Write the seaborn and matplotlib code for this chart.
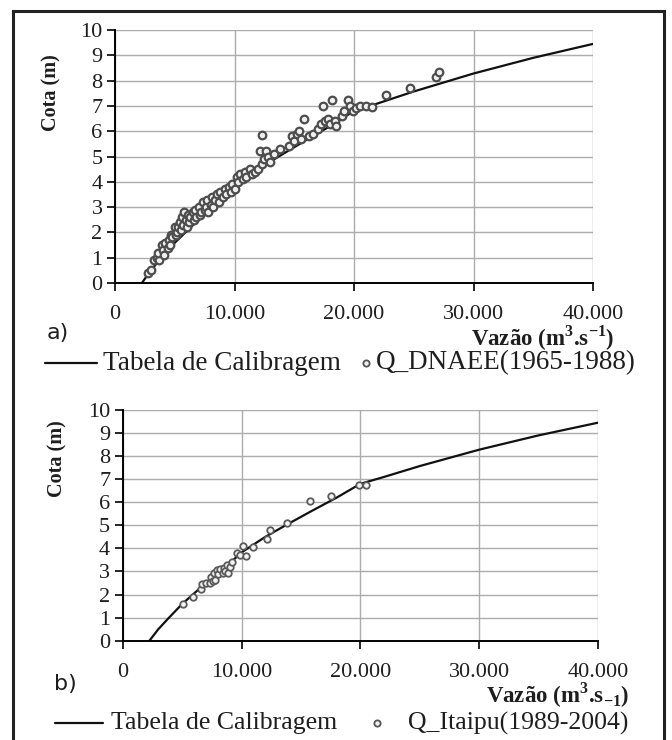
import matplotlib
matplotlib.use("Agg")
import matplotlib.pyplot as plt
import matplotlib.patches as mpatches
from matplotlib.lines import Line2D
from matplotlib.ticker import FuncFormatter
import seaborn as sns
import pandas as pd

# Rating curve (Tabela de Calibragem)
curve_q = [2250, 3000, 3900, 5000, 5900, 7000, 8150, 9300, 10100, 12000, 13700,
           16000, 18000, 20000, 22000, 25000, 30000, 35000, 40000]
curve_h = [0.0, 0.5, 1.0, 1.59, 2.0, 2.5, 3.0, 3.5, 3.86, 4.5, 5.0,
           5.65, 6.2, 6.8, 7.1, 7.57, 8.28, 8.9, 9.45]

# Q_DNAEE (1965-1988)
dnaee_q = [2800, 3000, 3300, 3500, 3700, 3600, 3900, 4000, 4100, 4200, 4400, 4500,
           4600, 4700, 4800, 5000, 5100, 5200, 5300, 5400, 5500, 5600, 5700, 5800,
           5900, 6000, 6100, 6200, 6300, 6500, 6600, 6700, 6800, 7000, 7100, 7200,
           7400, 7500, 7600, 7700, 7800, 8000, 8100, 8200, 8400, 8500, 8700, 8800,
           9000, 9200, 9300, 9500, 9700, 9800, 10000, 10200, 10300, 10500, 10700,
           10900, 11000, 11300, 11500, 11700, 12000, 12100, 12300, 12300, 12500,
           12600, 12800, 13000, 13300, 13800, 14600, 14800, 15000, 15200, 15400,
           15600, 15800, 16200, 16600, 17000, 17200, 17400, 17600, 17800, 18000,
           18200, 18400, 18500, 19000, 19200, 19500, 19700, 19900, 20200, 20500,
           21000, 21500, 22700, 24700, 26900, 27100]
dnaee_h = [0.4, 0.5, 0.9, 1.0, 0.9, 1.2, 1.5, 1.3, 1.1, 1.6, 1.4, 1.7,
           1.5, 1.9, 1.8, 2.2, 1.9, 2.0, 2.2, 2.4, 2.1, 2.6, 2.3, 2.8,
           2.5, 2.2, 2.7, 2.4, 2.6, 2.8, 2.5, 2.9, 2.6, 3.0, 2.7, 2.8,
           3.2, 2.9, 3.0, 3.3, 2.8, 3.1, 3.4, 3.0, 3.3, 3.5, 3.2, 3.6,
           3.4, 3.7, 3.5, 3.8, 3.6, 3.9, 3.7, 4.2, 4.0, 4.3, 4.1,
           4.4, 4.2, 4.5, 4.3, 4.4, 4.5, 5.2, 5.85, 4.7, 4.9,
           5.2, 5.0, 4.8, 5.1, 5.3, 5.4, 5.8, 5.6, 5.9, 6.0,
           5.7, 6.5, 5.8, 5.9, 6.1, 6.3, 7.0, 6.4, 6.5, 6.3,
           7.25, 6.4, 6.2, 6.6, 6.8, 7.25, 7.0, 6.8, 6.9, 7.0,
           7.0, 6.95, 7.43, 7.7, 8.15, 8.35]

# Q_Itaipu (1989-2004)
itaipu_q = [5050, 5940, 6560, 6650, 7010, 7350, 7400, 7600, 7700, 7800, 7910,
            8000, 8200, 8400, 8500, 8600, 8800, 8900, 9000, 9200, 9600, 9880,
            10100, 10380, 11000, 12120, 12400, 13860, 15770, 17510, 19920, 20480]
itaipu_h = [1.59, 1.91, 2.23, 2.46, 2.5, 2.5, 2.75, 2.6, 2.95, 2.65, 3.06,
            2.9, 3.1, 2.95, 3.15, 3.0, 3.3, 2.95, 3.2, 3.4, 3.8, 3.7,
            4.1, 3.67, 4.07, 4.4, 4.8, 5.11, 6.07, 6.27, 6.75, 6.75]

x_ticks = [0, 10000, 20000, 30000, 40000]
y_ticks = list(range(0, 11))

sns.set_theme(style="white")
plt.rcParams['font.family'] = ['Liberation Serif', 'DejaVu Serif']
plt.rcParams['mathtext.fontset'] = 'custom'
plt.rcParams['mathtext.rm'] = 'Liberation Serif'
plt.rcParams['mathtext.bf'] = 'Liberation Serif:bold'

W, H = 672, 740
fig = plt.figure(figsize=(W / 100, H / 100), dpi=100)
fig.patch.set_facecolor('white')

TXT = '#1e1e1e'

# outer frame
fig.add_artist(mpatches.Rectangle((13 / W, -0.01), (664 - 13) / W, 1 - 11 / H + 0.01,
                                  transform=fig.transFigure, fill=False,
                                  edgecolor='#222222', linewidth=2.2))

curve_df = pd.DataFrame({'Q': curve_q, 'h': curve_h})
dnaee_df = pd.DataFrame({'Q': dnaee_q, 'h': dnaee_h})
itaipu_df = pd.DataFrame({'Q': itaipu_q, 'h': itaipu_h})

fmt = FuncFormatter(lambda v, p: "0" if v == 0 else f"{int(v):,}".replace(",", "."))


def style_ax(ax):
    ax.set_xlim(0, 40000)
    ax.set_ylim(0, 10)
    ax.set_xticks(x_ticks)
    ax.set_yticks(y_ticks)
    ax.xaxis.set_major_formatter(fmt)
    ax.grid(True, color='#acacac', linewidth=1.0)
    ax.set_axisbelow(True)
    for s in ['top', 'right']:
        ax.spines[s].set_visible(False)
    for s in ['left', 'bottom']:
        ax.spines[s].set_color('black')
        ax.spines[s].set_linewidth(1.4)
        ax.spines[s].set_zorder(5)
    ax.tick_params(axis='y', which='both', left=True, direction='out', length=6,
                   width=1.2, color='black', labelsize=16, pad=3, labelcolor=TXT)
    ax.tick_params(axis='x', which='both', bottom=True, direction='out', length=6,
                   width=1.2, color='black', labelsize=16, pad=10, labelcolor=TXT)
    ax.set_xlabel('')
    ax.set_ylabel('')
    leg = ax.get_legend()
    if leg is not None:
        leg.remove()


# Panel a)
ax1 = fig.add_axes([115 / W, 1 - 283 / H, (593 - 115) / W, (283 - 30) / H])
sns.lineplot(data=curve_df, x='Q', y='h', ax=ax1, color='#111111', linewidth=1.6, zorder=3)
sns.scatterplot(data=dnaee_df, x='Q', y='h', ax=ax1, marker='o', s=30,
                facecolor='#f0f0f0', edgecolor='#4d4d4d', linewidth=1.6, zorder=4)
style_ax(ax1)

# Panel b)
ax2 = fig.add_axes([122.7 / W, 1 - 640.7 / H, (598 - 122.7) / W, (640.7 - 410) / H])
sns.lineplot(data=curve_df, x='Q', y='h', ax=ax2, color='#111111', linewidth=1.6, zorder=3)
sns.scatterplot(data=itaipu_df, x='Q', y='h', ax=ax2, marker='o', s=22,
                facecolor='#f4f4f4', edgecolor='#5a5a5a', linewidth=1.3, zorder=4)
style_ax(ax2)

# y labels
fig.text(51 / W, 1 - 93 / H, 'Cota (m)', rotation=90, ha='center', va='center',
         fontsize=14.5, fontweight='bold', color=TXT)
fig.text(57 / W, 1 - 459 / H, 'Cota (m)', rotation=90, ha='center', va='center',
         fontsize=14.5, fontweight='bold', color=TXT)

# labels a) / b)
fig.text(47 / W, 1 - 333 / H, 'a)', fontsize=16, family='DejaVu Sans',
         ha='left', va='center', color=TXT)
fig.text(54 / W, 1 - 684 / H, 'b)', fontsize=16, family='DejaVu Sans',
         ha='left', va='center', color=TXT)

# x labels
fig.text(614 / W, 1 - 338 / H, r'Vazão (m$^{\mathbf{3}}$.s$^{\mathbf{-1}}$)', fontsize=16.5,
         fontweight='bold', ha='right', va='center', color=TXT)
fig.text(629 / W, 1 - 695 / H, r'Vazão (m$^{\mathbf{3}}$.s$_{\mathbf{-1}}$)', fontsize=16.5,
         fontweight='bold', ha='right', va='center', color=TXT)


# legends
def draw_legend(y, x_line0, x_line1, x_text1, x_mark, x_text2, label2, size):
    yy = 1 - y / H
    fig.add_artist(Line2D([x_line0 / W, x_line1 / W], [yy, yy], transform=fig.transFigure,
                          color='#111111', linewidth=1.6))
    fig.text(x_text1 / W, yy, 'Tabela de Calibragem', fontsize=size, ha='left',
             va='center', color=TXT)
    fig.add_artist(Line2D([x_mark / W], [yy], transform=fig.transFigure, marker='o',
                          markersize=4.5, markerfacecolor='#f0f0f0',
                          markeredgecolor='#555555', markeredgewidth=1.3, linestyle='none'))
    fig.text(x_text2 / W, yy, label2, fontsize=size, ha='left', va='center', color=TXT)


draw_legend(363, 45, 97, 103, 366, 376, 'Q_DNAEE(1965-1988)', 19.5)
draw_legend(723, 55, 103, 111, 377, 408, 'Q_Itaipu(1989-2004)', 18.5)

fig.savefig('out.png', dpi=100, facecolor='white')
